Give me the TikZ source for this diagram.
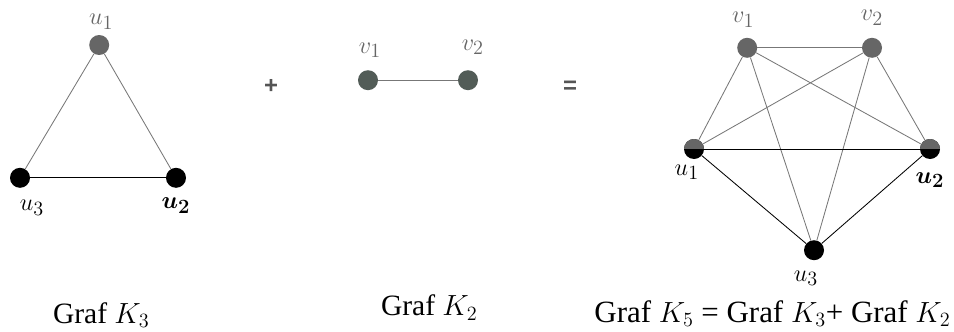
\documentclass[tikz,border=0pt]{standalone}
\usepackage{fontspec}
\usepackage{amsmath,bm}
\setmainfont{Liberation Serif}
\newfontfamily\signfont{Liberation Sans}
\usepackage{tikz}
\usetikzlibrary{calc,positioning}
\definecolor{VGray}{HTML}{666666}
\definecolor{VDark}{HTML}{525C57}
\definecolor{EGray}{HTML}{777777}
\definecolor{Sign}{HTML}{555555}
\tikzset{vtx/.style={circle,fill=black,minimum size=.5cm,inner sep=0pt},gvtx/.style={vtx,fill=VGray},dvtx/.style={vtx,fill=VDark},hvtx/.style={vtx,path picture={\fill[VGray](path picture bounding box.north west)rectangle(path picture bounding box.east);}},edge/.style={draw=black,line width=.6pt},gedge/.style={draw=EGray,line width=.6pt},lbl/.style={font=\fontsize{19}{21}\selectfont,inner sep=0pt},glbl/.style={lbl,text=VGray},sign/.style={font=\signfont\bfseries\fontsize{17}{20}\selectfont,text=Sign},captext/.style={anchor=base,inner sep=0pt,font=\fontsize{21}{24}\selectfont}}

\begin{document}
\begin{tikzpicture}
      \useasboundingbox (0,0) rectangle (23.85,8.275);
      % K3
      \node[gvtx](k3u1) at (2.48,7.15){};
      \node[vtx](k3u3) at (0.5,3.83){};
      \node[vtx](k3u2) at (4.4,3.83){};
      \draw[gedge](k3u1)--(k3u3);\draw[gedge](k3u1)--(k3u2);
      \draw[edge](k3u3)--(k3u2);
      \node[glbl](lu1) at ($(k3u1)+(.05,.58)$){$u_1$};
      \node[lbl](lu3) at ($(k3u3)+(.3,-.75)$){$u_3$};
      \node[lbl](lu2) at ($(k3u2)+(0,-.7)$){$\bm{u_2}$};
      \node[sign](plus) at (6.78,6.12){+};
      % K2
      \node[dvtx](k2v1) at (9.2,6.27){};
      \node[dvtx](k2v2) at (11.7,6.27){};
      \draw[gedge](k2v1)--(k2v2);
      \node[glbl](lv1) at ($(k2v1)+(.05,.75)$){$v_1$};
      \node[glbl](lv2) at ($(k2v2)+(.12,.82)$){$v_2$};
      \node[sign](eq) at (14.25,6.1){=};
      % K5
      \node[gvtx](k5v1) at (18.68,7.08){};
      \node[gvtx](k5v2) at (21.8,7.08){};
      \node[hvtx](k5u1) at (17.35,4.55){};
      \node[hvtx](k5u2) at (23.25,4.55){};
      \node[vtx](k5u3) at (20.35,2.02){};
      \foreach \a/\b in {k5v1/k5v2,k5v1/k5u1,k5v1/k5u2,k5v1/k5u3,k5v2/k5u1,k5v2/k5u2,k5v2/k5u3}
        \draw[gedge](\a)--(\b);
      \foreach \a/\b in {k5u1/k5u2,k5u1/k5u3,k5u2/k5u3}
        \draw[edge](\a)--(\b);
      \node[glbl](mv1) at ($(k5v1)+(-.1,.7)$){$v_1$};
      \node[glbl](mv2) at ($(k5v2)+(0,.75)$){$v_2$};
      \node[lbl](mu1) at ($(k5u1)+(-.18,-.58)$){$u_1$};
      \node[lbl](mu2) at ($(k5u2)+(0,-.78)$){$\bm{u_2}$};
      \node[lbl](mu3) at ($(k5u3)+(-.2,-.7)$){$u_3$};
      % captions
      \node[captext](c3) at (2.53,0.2){Graf $K_3$};
      \node[captext](c2) at (10.73,0.38){Graf $K_2$};
      \node[captext,font=\fontsize{22}{25}\selectfont](c5) at (19.31,0.22){Graf $K_5$ = Graf $K_3$+ Graf $K_2$};
    \end{tikzpicture}
\end{document}
